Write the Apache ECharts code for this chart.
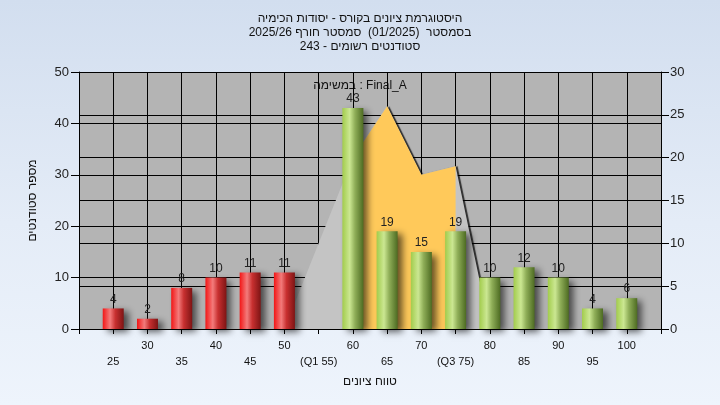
<!DOCTYPE html>
<html>
<head>
<meta charset="utf-8">
<script src="https://cdn.jsdelivr.net/npm/echarts@6/dist/echarts.min.js"></script>
<style>
html,body{margin:0;padding:0;}
#c{width:720px;height:405px;background:linear-gradient(to bottom,#d2deef 0%,#e4ecf7 55%,#eef4fc 100%);}
</style>
</head>
<body>
<div id="c"></div>
<script>
// ---- data ----
const titleLines = ['היסטוגרמת ציונים בקורס - יסודות הכימיה', 'בסמסטר  (01/2025)  סמסטר חורף 2025/26', 'סטודנטים רשומים - 243'];
const taskLabel = 'במשימה : Final_A';
const xAxisTitle = 'טווח ציונים';
const yAxisTitle = 'מספר סטודנטים';
const grades = [25, 30, 35, 40, 45, 50, 55, 60, 65, 70, 75, 80, 85, 90, 95, 100];
const counts = [4, 2, 8, 10, 11, 11, null, 43, 19, 15, 19, 10, 12, 10, 4, 6];
const specialTickLabels = {55: '(Q1 55)', 75: '(Q3 75)'};
const failBelow = 55;
const curveX = [50, 55, 60, 65, 70, 75, 80];
const curveY = [0, 10, 20, 26, 18, 19, 0];
const iqrX = [60, 60, 65, 70, 75, 75];
const iqrY = [0, 20, 26, 18, 19, 0];
const leftTicks = {min: 0, max: 50, interval: 10};
const rightTicks = {min: 0, max: 30, interval: 5};

const chart = echarts.init(document.getElementById('c'), null, {renderer: 'canvas'});
const G = echarts.graphic;
const redGrad = new G.LinearGradient(0, 0, 1, 0, [
  {offset: 0, color: '#f21616'}, {offset: 0.35, color: '#f37b7b'}, {offset: 0.6, color: '#c83030'}, {offset: 1, color: '#7e1414'}]);
const greenGrad = new G.LinearGradient(0, 0, 1, 0, [
  {offset: 0, color: '#a2cc4c'}, {offset: 0.35, color: '#cbe792'}, {offset: 0.6, color: '#8fae58'}, {offset: 1, color: '#4d6b22'}]);

const barData = grades.map((g, i) => counts[i] == null ? null : [g, counts[i]]).filter(d => d);

const axisBlack = {lineStyle: {color: '#000', width: 1}};
const font = 'Liberation Sans, Arial, sans-serif';

chart.setOption({
  animation: false,
  textStyle: {fontFamily: font},
  title: {
    text: titleLines.join('\n'),
    left: 'center', top: 7,
    textStyle: {fontSize: 12, fontWeight: 'normal', color: '#111', lineHeight: 14, fontFamily: font}
  },
  graphic: [{
    type: 'text', left: 'center', top: 80,
    style: {text: taskLabel, fontSize: 12, fill: '#111', fontFamily: font}
  }],
  grid: {left: 79, right: 59, top: 72, bottom: 76, show: true, backgroundColor: '#b4b4b4', borderWidth: 0},
  xAxis: {
    type: 'value', min: 20, max: 105, interval: 5,
    axisLine: {show: true, lineStyle: {color: '#000'}},
    axisTick: {show: true, length: 5, lineStyle: {color: '#000'}},
    splitLine: {show: true, lineStyle: {color: '#000', width: 1}},
    axisLabel: {
      margin: 9, fontSize: 11, color: '#111', lineHeight: 16, showMinLabel: true, showMaxLabel: true,
      formatter: v => {
        if (v < grades[0] || v > grades[grades.length - 1]) return '';
        const t = specialTickLabels[v] || String(v);
        return (v / 5) % 2 === 1 ? '\n' + t : t;
      }
    },
    name: xAxisTitle, nameLocation: 'middle', nameGap: 47,
    nameTextStyle: {fontSize: 12, color: '#111'}
  },
  yAxis: [{
    type: 'value', position: 'left', ...leftTicks,
    axisLine: {show: true, ...axisBlack},
    axisTick: {show: true, length: 8, ...axisBlack},
    splitLine: {show: true, lineStyle: {color: '#000', width: 1}},
    axisLabel: {margin: 10, fontSize: 13, color: '#222'},
    name: yAxisTitle, nameLocation: 'middle', nameRotate: 90, nameGap: 40,
    nameTextStyle: {fontSize: 12, color: '#111'}
  }, {
    type: 'value', position: 'right', ...rightTicks,
    axisLine: {show: true, ...axisBlack},
    axisTick: {show: true, length: 8, ...axisBlack},
    splitLine: {show: true, lineStyle: {color: '#000', width: 1}},
    axisLabel: {margin: 9, fontSize: 13, color: '#222'}
  }],
  series: [{
    type: 'line', yAxisIndex: 1, symbol: 'none', silent: true,
    data: curveX.map((x, i) => [x, curveY[i]]),
    lineStyle: {width: 0},
    areaStyle: {color: '#c4c4c4', opacity: 1, shadowColor: 'rgba(0,0,0,0.75)', shadowOffsetX: 2, shadowOffsetY: 0, shadowBlur: 1},
    z: 2
  }, {
    type: 'line', yAxisIndex: 1, symbol: 'none', silent: true,
    data: iqrX.map((x, i) => [x, iqrY[i]]),
    lineStyle: {width: 0},
    areaStyle: {color: '#ffc95a', opacity: 1},
    z: 3
  }, {
    type: 'bar', yAxisIndex: 0, barWidth: 21,
    data: barData,
    itemStyle: {
      color: p => p.value[0] < failBelow ? redGrad : greenGrad,
      shadowColor: 'rgba(0,0,0,0.6)', shadowBlur: 7, shadowOffsetX: 5, shadowOffsetY: 3
    },
    label: {show: true, position: 'top', distance: 3, fontSize: 12, color: '#222',
      formatter: p => String(p.value[1])},
    z: 4
  }]
});
</script>
</body>
</html>
